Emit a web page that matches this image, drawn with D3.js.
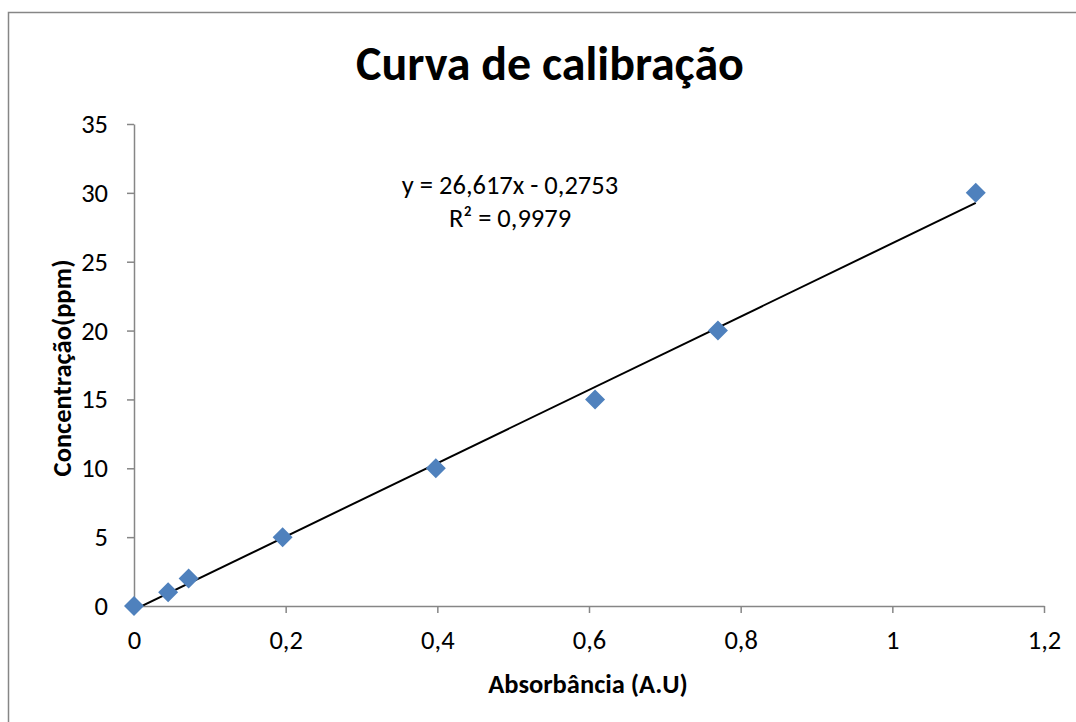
<!DOCTYPE html>
<html><head><meta charset="utf-8">
<script src="https://cdn.jsdelivr.net/npm/d3@7"></script>
<style>html,body{margin:0;padding:0;background:#fff;overflow:hidden}</style>
</head><body>
<svg id="c" width="1076" height="722"></svg>
<script>
const absorbance = [0, 0.045, 0.072, 0.196, 0.398, 0.608, 0.770, 1.110];
const concentration = [0, 1, 2, 5, 10, 15, 20, 30];
const xTicks = [0, 0.2, 0.4, 0.6, 0.8, 1, 1.2];
const yTicks = [0, 5, 10, 15, 20, 25, 30, 35];
const slope = 26.617, intercept = -0.2753;
const equationText = "y = 26,617x - 0,2753";
const r2Text = "R² = 0,9979";
const titleText = "Curva de calibração";
const xTitle = "Absorbância (A.U)";
const yTitle = "Concentração(ppm)";

const font = "Carlito, Lato, 'Open Sans', sans-serif";
const fs = 26.5;
const svg = d3.select("#c");
const axisColor = "#868686";
const L = 134, R = 1044, T = 124, B = 606;
const x = d3.scaleLinear().domain([0, 1.2]).range([L, R]);
const y = d3.scaleLinear().domain([0, 35]).range([B, T]);
const fmt = d => String(d).replace(".", ",");

svg.append("rect").attr("x", 8.5).attr("y", 12.5).attr("width", 1100).attr("height", 800)
  .attr("fill", "none").attr("stroke", axisColor).attr("stroke-width", 1.5);

svg.append("text").attr("x", 550).attr("y", 80).attr("text-anchor", "middle")
  .attr("font-family", font).attr("font-weight", "bold").attr("font-size", 48).text(titleText);

const xa = svg.append("g").attr("transform", `translate(0,${B})`)
  .call(d3.axisBottom(x).tickValues(xTicks).tickFormat(fmt).tickSize(7).tickSizeOuter(0).tickPadding(17));
const ya = svg.append("g").attr("transform", `translate(${L},0)`)
  .call(d3.axisLeft(y).tickValues(yTicks).tickFormat(fmt).tickSize(7).tickSizeOuter(0).tickPadding(19));
[xa, ya].forEach(g => {
  g.select(".domain").attr("stroke", axisColor).attr("stroke-width", 1.5);
  g.selectAll(".tick line").attr("stroke", axisColor).attr("stroke-width", 1.5);
  g.selectAll(".tick text").attr("font-family", font).attr("font-size", fs).attr("fill", "#000");
});
ya.selectAll(".tick").filter(d => d === 0).select("line").remove();

svg.append("clipPath").attr("id", "clip").append("rect")
  .attr("x", L).attr("y", T).attr("width", R - L).attr("height", B - T);

const xmin = d3.min(absorbance), xmax = d3.max(absorbance);
svg.append("line").attr("clip-path", "url(#clip)")
  .attr("x1", x(xmin)).attr("y1", y(slope * xmin + intercept))
  .attr("x2", x(xmax)).attr("y2", y(slope * xmax + intercept))
  .attr("stroke", "#000").attr("stroke-width", 2);

const pts = absorbance.map((a, i) => [a, concentration[i]]);
svg.selectAll("path.pt").data(pts).enter().append("path")
  .attr("class", "pt")
  .attr("d", d3.symbol(d3.symbolSquare, 200))
  .attr("transform", d => `translate(${x(d[0])},${y(d[1])}) rotate(45)`)
  .attr("fill", "#4F81BD");

svg.append("text").attr("x", 510).attr("y", 194).attr("text-anchor", "middle")
  .attr("font-family", font).attr("font-size", fs).text(equationText);
svg.append("text").attr("x", 510).attr("y", 227).attr("text-anchor", "middle")
  .attr("font-family", font).attr("font-size", fs).text(r2Text);

svg.append("text").attr("x", 588).attr("y", 693).attr("text-anchor", "middle")
  .attr("font-family", font).attr("font-weight", "bold").attr("font-size", fs).text(xTitle);
svg.append("text").attr("transform", "translate(71,368) rotate(-90)").attr("text-anchor", "middle")
  .attr("font-family", font).attr("font-weight", "bold").attr("font-size", fs).text(yTitle);
</script>
</body></html>
